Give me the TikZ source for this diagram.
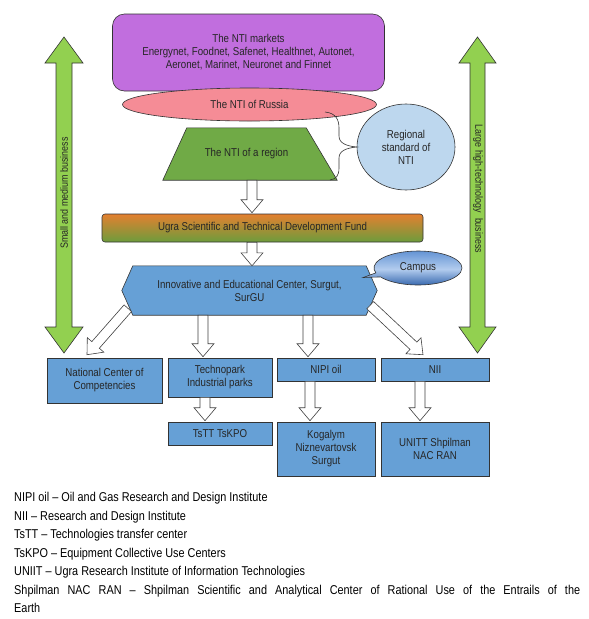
\documentclass[tikz,border=0pt]{standalone}
\usepackage{fontspec}
\setmainfont[FakeStretch=0.85]{Liberation Sans}
\usetikzlibrary{backgrounds,calc,shapes.geometric,shapes.callouts}
\definecolor{marketpurple}{RGB}{193,110,222}
\definecolor{russiapink}{RGB}{245,140,150}
\definecolor{regiongreen}{RGB}{112,170,70}
\definecolor{standardblue}{RGB}{189,215,238}
\definecolor{boxblue}{RGB}{102,160,214}
\definecolor{fundorange}{RGB}{228,128,48}
\definecolor{fundgreen}{RGB}{108,156,60}
\definecolor{bizgreen}{RGB}{146,208,80}
\definecolor{campusdark}{RGB}{38,90,165}
\definecolor{campuslight}{RGB}{178,204,238}
\definecolor{campusmid}{RGB}{100,148,212}

\begin{document}
\begin{tikzpicture}[x=1pt,y=-1pt,
every node/.style={font=\fontsize{11.4}{13}\selectfont, text=black!85, align=center, inner sep=0pt},
line/.style={draw=black!80, line width=0.6pt},
box/.style={line, fill=boxblue},
bizarrow/.style={line, fill=bizgreen},
hollow/.style={draw=black!75, fill=white, line width=0.6pt,
  to path={let \p1=(\tikztostart), \p2=(\tikztotarget),
    \n1={atan2(\y2-\y1,\x2-\x1)}, \n2={veclen(\x2-\x1,\y2-\y1)-13} in
    ({\x1-5*sin(\n1)},{\y1+5*cos(\n1)})
    -- ({\x1+\n2*cos(\n1)-5*sin(\n1)},{\y1+\n2*sin(\n1)+5*cos(\n1)})
    -- ({\x1+\n2*cos(\n1)-11*sin(\n1)},{\y1+\n2*sin(\n1)+11*cos(\n1)})
    -- (\p2)
    -- ({\x1+\n2*cos(\n1)+11*sin(\n1)},{\y1+\n2*sin(\n1)-11*cos(\n1)})
    -- ({\x1+\n2*cos(\n1)+5*sin(\n1)},{\y1+\n2*sin(\n1)-5*cos(\n1)})
    -- ({\x1+5*sin(\n1)},{\y1-5*cos(\n1)}) -- cycle}}]
\useasboundingbox (0,0) rectangle (589,619);

\draw[bizarrow] (64,37) -- (83,63) -- (72,63) -- (72,327) -- (83,327) -- (64,353)
  -- (45,327) -- (56,327) -- (56,63) -- (45,63) -- cycle;
\draw[bizarrow] (477.5,37) -- (496,63) -- (485,63) -- (485,327) -- (496,327) -- (477.5,353)
  -- (459,327) -- (470,327) -- (470,63) -- (459,63) -- cycle;
\node[rotate=90, font=\fontsize{10.5}{12}\selectfont] (smb) at (64,193) {Small and medium business};
\node[rotate=-90, font=\fontsize{10.5}{12}\selectfont] (lhtb) at (478,189) {Large high-technology~ business};

\node[line, fill=marketpurple, rounded corners=12pt, minimum width=272pt, minimum height=77pt] (markets) at (248.5,52.5)
  {The NTI markets\\Energynet, Foodnet, Safenet, Healthnet, Autonet,\\Aeronet, Marinet, Neuronet and Finnet};
\node[line, ellipse, fill=russiapink, minimum width=254pt, minimum height=33pt] (russia) at (249.5,104.5) {The NTI of Russia};
\node[minimum width=119pt, minimum height=52pt] (region) at (246.5,154) {The NTI of a region};
\node[line, ellipse, fill=standardblue, minimum width=98pt, minimum height=86pt] (standard) at (406,147) {Regional\\standard of\\NTI};
\coordinate (bracetop) at (325,112);
\coordinate (bracebot) at (330,180);
\draw[black!80, line width=0.6pt] (bracetop) .. controls (336,113) and (339,120) .. (339,128) -- (339,136)
  .. controls (339,143) and (346,146) .. (standard.west)
  .. controls (346,148) and (339,151) .. (339,158) -- (339,168)
  .. controls (339,176) and (336,179) .. (bracebot);

\node[line, top color=fundorange, bottom color=fundgreen, rounded corners=3pt, minimum width=321pt, minimum height=28pt] (fund) at (262.5,228)
  {Ugra Scientific and Technical Development Fund};
\node[minimum width=233pt, minimum height=49pt] (ice) at (249.5,290.5) {Innovative and Educational Center, Surgut,\\SurGU};
\coordinate (campustip) at ([xshift=-3pt,yshift=13pt]ice.east);
\node[line, ellipse callout, callout absolute pointer=(campustip), minimum width=88pt, minimum height=34pt,
  top color=campusmid, bottom color=campusdark, middle color=campuslight] (campus) at (418,268) {Campus};

\begin{scope}[on background layer]
\draw[line, fill=regiongreen] (region.north west) -- (region.north east) -- ([xshift=31pt]region.south east)
  -- ([xshift=-24pt]region.south west) -- cycle;
\draw[line, fill=boxblue] ([xshift=-11pt]ice.west) -- (ice.north west) -- (ice.north east) -- ([xshift=11pt]ice.east)
  -- (ice.south east) -- (ice.south west) -- cycle;
\end{scope}

\node[box, minimum width=115pt, minimum height=45pt] (ncc) at (104.5,380.5) {National Center of\\Competencies};
\node[box, minimum width=104pt, minimum height=39pt] (tech) at (220,377.5) {Technopark\\Industrial parks};
\node[box, minimum width=98pt, minimum height=23pt] (nipi) at (326,369.5) {NIPI oil};
\node[box, minimum width=108pt, minimum height=23pt] (nii) at (435,369.5) {NII};
\node[box, minimum width=104pt, minimum height=23pt] (tstt) at (220,433.5) {TsTT TsKPO};
\node[box, minimum width=98pt, minimum height=54pt] (kog) at (326,449) {Kogalym\\Niznevartovsk\\Surgut};
\node[box, minimum width=108pt, minimum height=54pt] (unitt) at (435,449) {UNITT Shpilman\\NAC RAN};

\draw[hollow] ([xshift=5.5pt]region.south) to ([xshift=-10.5pt,yshift=1pt]fund.north);
\draw[hollow] ([xshift=-10.5pt]fund.south) to ([xshift=2.5pt]ice.north);
\draw[hollow] ([xshift=-5pt,yshift=7pt]ice.south west) to ([xshift=-17.5pt,yshift=3pt]ncc.north);
\draw[hollow] ([xshift=-46.5pt]ice.south) to ([xshift=-17pt,yshift=1pt]tech.north);
\draw[hollow] ([xshift=58.5pt]ice.south) to ([xshift=-18pt,yshift=1pt]nipi.north);
\draw[hollow] ([xshift=4pt,yshift=10pt]ice.south east) to ([xshift=-12pt,yshift=3pt]nii.north);
\draw[hollow] ([xshift=-15pt]tech.south) to ([xshift=-15pt,yshift=1pt]tstt.north);
\draw[hollow] ([xshift=-16pt]nipi.south) to ([xshift=-16pt,yshift=1pt]kog.north);
\draw[hollow] ([xshift=-15pt]nii.south) to ([xshift=-15pt,yshift=1pt]unitt.north);

\node[anchor=north west, text width=566pt, align=justify, text=black, font=\fontsize{12.8}{18.5}\selectfont] (legend) at (14,492.5)
  {NIPI oil – Oil and Gas Research and Design Institute\par
   NII – Research and Design Institute\par
   TsTT – Technologies transfer center\par
   TsKPO – Equipment Collective Use Centers\par
   UNIIT – Ugra Research Institute of Information Technologies\par
   Shpilman NAC RAN – Shpilman Scientific and Analytical Center of Rational Use of the Entrails of the\linebreak Earth};
\end{tikzpicture}
\end{document}
